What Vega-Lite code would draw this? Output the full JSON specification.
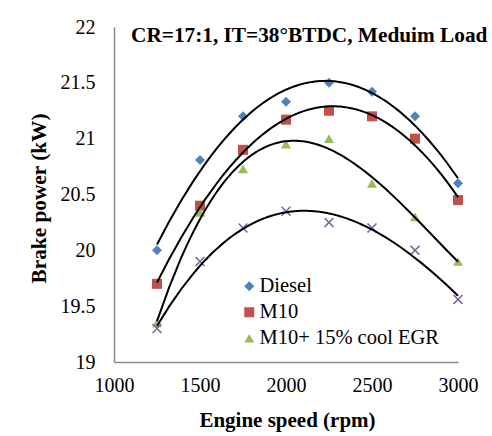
{
  "$schema": "https://vega.github.io/schema/vega-lite/v6.json",
  "width": 344,
  "height": 335,
  "autosize": {"type": "none"},
  "padding": {"left": 114, "top": 27, "right": 34, "bottom": 74},
  "background": "white",
  "title": {
    "text": "CR=17:1, IT=38°BTDC, Meduim Load",
    "font": "Liberation Serif",
    "fontSize": 21.3,
    "fontWeight": "bold",
    "color": "black",
    "anchor": "start",
    "frame": "group",
    "dx": 17,
    "dy": 32,
    "offset": -14,
    "baseline": "alphabetic"
  },
  "config": {
    "font": "Liberation Serif",
    "view": {"stroke": null}
  },
  "data": {
    "values": [
      {"series": "Diesel", "speed": 1250, "power": 20.0},
      {"series": "Diesel", "speed": 1500, "power": 20.81},
      {"series": "Diesel", "speed": 1750, "power": 21.2},
      {"series": "Diesel", "speed": 2000, "power": 21.33},
      {"series": "Diesel", "speed": 2250, "power": 21.5},
      {"series": "Diesel", "speed": 2500, "power": 21.42},
      {"series": "Diesel", "speed": 2750, "power": 21.2},
      {"series": "Diesel", "speed": 3000, "power": 20.6},
      {"series": "M10", "speed": 1250, "power": 19.7},
      {"series": "M10", "speed": 1500, "power": 20.4},
      {"series": "M10", "speed": 1750, "power": 20.9},
      {"series": "M10", "speed": 2000, "power": 21.17},
      {"series": "M10", "speed": 2250, "power": 21.25},
      {"series": "M10", "speed": 2500, "power": 21.2},
      {"series": "M10", "speed": 2750, "power": 21.0},
      {"series": "M10", "speed": 3000, "power": 20.45},
      {"series": "M10+ 15% cool EGR", "speed": 1250, "power": 19.35},
      {"series": "M10+ 15% cool EGR", "speed": 1500, "power": 20.34},
      {"series": "M10+ 15% cool EGR", "speed": 1750, "power": 20.73},
      {"series": "M10+ 15% cool EGR", "speed": 2000, "power": 20.95},
      {"series": "M10+ 15% cool EGR", "speed": 2250, "power": 21.0},
      {"series": "M10+ 15% cool EGR", "speed": 2500, "power": 20.6},
      {"series": "M10+ 15% cool EGR", "speed": 2750, "power": 20.3},
      {"series": "M10+ 15% cool EGR", "speed": 3000, "power": 19.9},
      {"series": "Series 4", "speed": 1250, "power": 19.3},
      {"series": "Series 4", "speed": 1500, "power": 19.9},
      {"series": "Series 4", "speed": 1750, "power": 20.2},
      {"series": "Series 4", "speed": 2000, "power": 20.35},
      {"series": "Series 4", "speed": 2250, "power": 20.25},
      {"series": "Series 4", "speed": 2500, "power": 20.2},
      {"series": "Series 4", "speed": 2750, "power": 20.0},
      {"series": "Series 4", "speed": 3000, "power": 19.56}
    ]
  },
  "encoding": {
    "x": {
      "field": "speed",
      "type": "quantitative",
      "scale": {"domain": [1000, 3000], "nice": false},
      "axis": {
        "title": "Engine speed (rpm)",
        "values": [1000, 1500, 2000, 2500, 3000],
        "format": "d",
        "grid": false,
        "ticks": false,
        "tickSize": 0,
        "labelFlush": false,
        "labelOverlap": false,
        "domainColor": "#8c8c8c",
        "domainWidth": 1.5,
        "labelFont": "Liberation Serif",
        "labelFontSize": 20,
        "labelColor": "black",
        "labelPadding": 13,
        "titleFont": "Liberation Serif",
        "titleFontSize": 21,
        "titleFontWeight": "bold",
        "titleColor": "black",
        "titleX": 173,
        "titleY": 64,
        "titleBaseline": "alphabetic"
      }
    },
    "y": {
      "field": "power",
      "type": "quantitative",
      "scale": {"domain": [19, 22], "nice": false, "zero": false},
      "axis": {
        "title": "Brake power (kW)",
        "values": [19, 19.5, 20, 20.5, 21, 21.5, 22],
        "format": "~g",
        "grid": false,
        "ticks": false,
        "tickSize": 0,
        "labelFlush": false,
        "labelOverlap": false,
        "domainColor": "#8c8c8c",
        "domainWidth": 1.5,
        "labelFont": "Liberation Serif",
        "labelFontSize": 20,
        "labelColor": "black",
        "labelPadding": 19,
        "titleFont": "Liberation Serif",
        "titleFontSize": 21.3,
        "titleFontWeight": "bold",
        "titleColor": "black",
        "titleAngle": -90,
        "titleX": -69,
        "titleY": 171,
        "titleAlign": "center",
        "titleBaseline": "alphabetic"
      }
    }
  },
  "layer": [
    {
      "transform": [{"filter": "datum.series !== 'Series 4'"}],
      "mark": {"type": "point", "filled": true, "opacity": 1, "size": 100},
      "encoding": {
        "color": {
          "field": "series",
          "type": "nominal",
          "scale": {
            "domain": ["Diesel", "M10", "M10+ 15% cool EGR"],
            "range": ["#4F81BD", "#C0504D", "#9BBB59"]
          },
          "legend": {
            "title": null,
            "orient": "none",
            "legendX": 125,
            "legendY": 249,
            "labelFont": "Liberation Serif",
            "labelFontSize": 20.5,
            "labelColor": "black",
            "labelLimit": 0,
            "symbolSize": 100,
            "symbolStrokeWidth": 0,
            "labelOffset": 0,
            "rowPadding": 5,
            "padding": 0
          }
        },
        "shape": {
          "field": "series",
          "type": "nominal",
          "scale": {
            "domain": ["Diesel", "M10", "M10+ 15% cool EGR"],
            "range": ["diamond", "square", "triangle-up"]
          },
          "legend": {
            "title": null,
            "orient": "none",
            "legendX": 125,
            "legendY": 249,
            "labelFont": "Liberation Serif",
            "labelFontSize": 20.5,
            "labelColor": "black",
            "labelLimit": 0,
            "symbolSize": 100,
            "symbolStrokeWidth": 0,
            "labelOffset": 0,
            "rowPadding": 5,
            "padding": 0
          }
        }
      }
    },
    {
      "transform": [{"filter": "datum.series === 'Series 4'"}],
      "mark": {
        "type": "point",
        "filled": false,
        "opacity": 1,
        "shape": "M-1,-1L1,1M-1,1L1,-1",
        "size": 80,
        "stroke": "#8064A2",
        "strokeWidth": 1.6
      }
    },
    {
      "transform": [
        {
          "regression": "power",
          "on": "speed",
          "groupby": ["series"],
          "method": "poly",
          "order": 3,
          "extent": [1250, 3000]
        }
      ],
      "mark": {"type": "line", "color": "black", "strokeWidth": 2},
      "encoding": {"detail": {"field": "series", "type": "nominal"}}
    }
  ]
}
